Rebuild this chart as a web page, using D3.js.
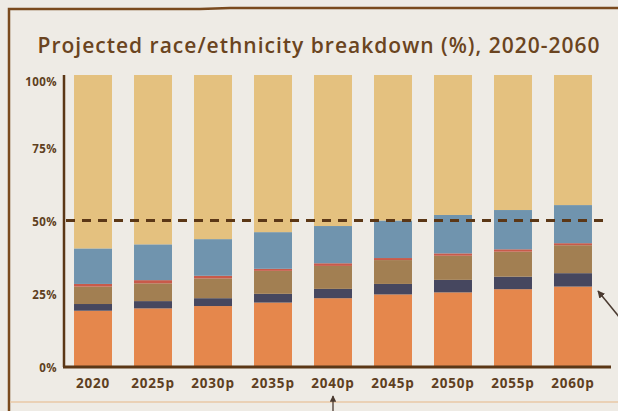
<!DOCTYPE html>
<html>
<head>
<meta charset="utf-8">
<script src="https://cdn.jsdelivr.net/npm/d3@7"></script>
<style>
  html, body { margin: 0; padding: 0; background: #eeebe5; }
  svg { display: block; }
</style>
</head>
<body>
<svg width="618" height="411"></svg>
<script>
var years = ['2020', '2025p', '2030p', '2035p', '2040p', '2045p', '2050p', '2055p', '2060p']

// shares per year, bottom segment first
var orangeShare = [19.0, 19.8, 20.6, 21.8, 23.3, 24.6, 25.3, 26.4, 27.3]
var navyShare = [2.3, 2.5, 2.7, 3.0, 3.2, 3.6, 4.3, 4.3, 4.6]
var brownShare = [6.0, 6.1, 6.8, 7.9, 7.9, 8.2, 8.3, 8.6, 9.6]
var redShare = [0.9, 1.1, 0.9, 0.7, 0.9, 0.7, 0.8, 0.8, 0.7]
var blueShare = [12.2, 12.3, 12.6, 12.6, 12.8, 12.9, 13.2, 13.5, 13.1]
var tanShare = [59.6, 58.2, 56.4, 54.0, 51.9, 50.0, 48.1, 46.4, 44.7]

var yTicks = [0, 25, 50, 75, 100]
var refLine = 50

var keys = ['orange', 'navy', 'brown', 'red', 'blue', 'tan']
var colors = {
  orange: '#e5874c',
  navy: '#46475f',
  brown: '#a27f52',
  red: '#c85a4a',
  blue: '#7094ae',
  tan: '#e4c17f'
}
var ink = '#5b3716'
var textInk = '#5e3f21'

var table = years.map(function (y, i) {
  return {
    year: y,
    orange: orangeShare[i],
    navy: navyShare[i],
    brown: brownShare[i],
    red: redShare[i],
    blue: blueShare[i],
    tan: tanShare[i]
  }
})

var svg = d3.select('svg')

// frame
svg.append('path')
  .attr('d', 'M9,411 L9,9 L200,9 L230,8 L618,8')
  .attr('fill', 'none')
  .attr('stroke', '#7a4a1e')
  .attr('stroke-width', 2.5)
svg.append('line')
  .attr('x1', 10).attr('x2', 618)
  .attr('y1', 402).attr('y2', 402)
  .attr('stroke', '#e9c9a6')
  .attr('stroke-width', 1.5)

svg.append('text')
  .attr('x', 319)
  .attr('y', 53)
  .attr('text-anchor', 'middle')
  .style('font-family', '"Open Sans", sans-serif')
  .style('font-weight', 600)
  .style('font-size', '21px')
  .style('letter-spacing', '1px')
  .attr('fill', '#6a4420')
  .text('Projected race/ethnicity breakdown (%), 2020-2060')

var x = d3.scaleBand()
  .domain(years)
  .range([64, 602])
  .paddingInner(0.367)
  .paddingOuter(0.167)

var y = d3.scaleLinear()
  .domain([0, 100])
  .range([366, 75])

var stack = d3.stack().keys(keys)(table)

var barsG = svg.append('g').attr('class', 'bars')
stack.forEach(function (layer) {
  barsG.selectAll(null)
    .data(layer)
    .enter()
    .append('rect')
    .attr('x', function (d) { return x(d.data.year) })
    .attr('width', x.bandwidth())
    .attr('y', function (d) { return y(d[1]) })
    .attr('height', function (d) { return y(d[0]) - y(d[1]) })
    .attr('fill', colors[layer.key])
})

// 50% reference
svg.append('line')
  .attr('x1', 66).attr('x2', 608)
  .attr('y1', y(refLine)).attr('y2', y(refLine))
  .attr('stroke', ink)
  .attr('stroke-width', 3)
  .attr('stroke-dasharray', '9,7')

// axes
var yAxis = svg.append('g')
  .attr('transform', 'translate(64,0)')
  .call(d3.axisLeft(y).tickValues(yTicks).tickSize(0).tickPadding(7)
    .tickFormat(function (d) { return d + '%' }))
yAxis.select('.domain').attr('stroke', ink).attr('stroke-width', 2.5)
  .attr('d', 'M0,75V367')
yAxis.selectAll('text')
  .attr('fill', textInk)
  .style('font-family', '"Open Sans", sans-serif')
  .style('font-weight', 700)
  .style('font-size', '11.5px')
  .style('letter-spacing', '0.4px')
  .attr('dy', function (d) { return d === 100 ? '0.95em' : '0.45em' })

var xAxis = svg.append('g')
  .attr('transform', 'translate(0,367)')
  .call(d3.axisBottom(x).tickSize(0).tickPadding(11))
xAxis.select('.domain').attr('stroke', ink).attr('stroke-width', 3)
  .attr('d', 'M63,0H611')
xAxis.selectAll('text')
  .attr('fill', textInk)
  .style('font-family', '"Open Sans", sans-serif')
  .style('font-weight', 700)
  .style('font-size', '13.5px')
  .style('letter-spacing', '0.8px')

// callout arrows
var defs = svg.append('defs')
defs.append('marker')
  .attr('id', 'head')
  .attr('viewBox', '0 0 10 10')
  .attr('refX', 9).attr('refY', 5)
  .attr('markerWidth', 5).attr('markerHeight', 5)
  .attr('orient', 'auto')
  .append('path')
  .attr('d', 'M0,0 L10,5 L0,10 z')
  .attr('fill', '#4a3a30')

svg.append('line')
  .attr('x1', 333).attr('y1', 411)
  .attr('x2', 333).attr('y2', 396)
  .attr('stroke', '#4a3a30').attr('stroke-width', 1.3)
  .attr('marker-end', 'url(#head)')
svg.append('line')
  .attr('x1', 620).attr('y1', 318)
  .attr('x2', 598).attr('y2', 291)
  .attr('stroke', '#4a3a30').attr('stroke-width', 1.5)
  .attr('marker-end', 'url(#head)')
</script>
</body>
</html>
